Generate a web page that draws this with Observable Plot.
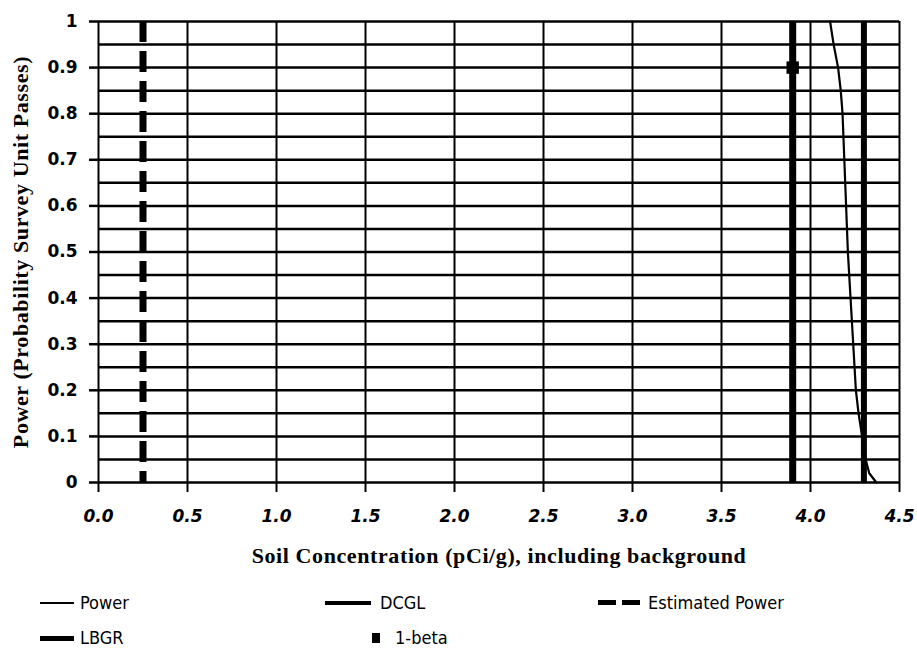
<!DOCTYPE html>
<html>
<head>
<meta charset="utf-8">
<script src="https://cdn.jsdelivr.net/npm/d3@7"></script>
<script src="https://cdn.jsdelivr.net/npm/@observablehq/plot@0.6"></script>
<style>
  html, body { margin: 0; padding: 0; background: #fff; }
  #wrap { position: relative; width: 917px; height: 659px; overflow: hidden; }
  #chart svg { display: block; }
  g[aria-label="x-axis tick label"] text { font-family: "DejaVu Sans", sans-serif; font-weight: bold; font-style: italic; font-size: 17px; }
  g[aria-label="y-axis tick label"] text { font-family: "DejaVu Sans", sans-serif; font-weight: bold; font-size: 17px; }
  g[aria-label="x-axis label"] text, g[aria-label="y-axis label"] text { font-family: "Liberation Serif", serif; font-weight: bold; font-size: 22px; letter-spacing: 0.6px; }
  .leg { position: absolute; font-family: "Liberation Sans Narrow", "DejaVu Sans Condensed", sans-serif; font-size: 18px; color: #000; line-height: 1; }
  .sw { position: absolute; background: #000; }
</style>
</head>
<body>
<div id="wrap">
  <div id="chart"></div>
</div>
<script>
// ---- data ----
const xTicks = [0, 0.5, 1, 1.5, 2, 2.5, 3, 3.5, 4, 4.5];
const yTicks = [0, 0.1, 0.2, 0.3, 0.4, 0.5, 0.6, 0.7, 0.8, 0.9, 1];
const yGrid = [0, 0.05, 0.1, 0.15, 0.2, 0.25, 0.3, 0.35, 0.4, 0.45, 0.5, 0.55, 0.6, 0.65, 0.7, 0.75, 0.8, 0.85, 0.9, 0.95, 1];
const powerX = [4.11, 4.13, 4.155, 4.17, 4.18, 4.19, 4.20, 4.21, 4.225, 4.24, 4.255, 4.27, 4.29, 4.31, 4.33, 4.37];
const powerY = [1, 0.95, 0.9, 0.85, 0.8, 0.7, 0.6, 0.5, 0.4, 0.3, 0.2, 0.15, 0.1, 0.05, 0.02, 0];
const estimatedPower = [0.25];
const lbgr = [3.9];
const dcgl = [4.3];
const oneBetaX = [3.9];
const oneBetaY = [0.9];
const legendLabels = ["Power", "DCGL", "Estimated Power", "LBGR", "1-beta"];

const power = powerX.map((x, i) => ({x, y: powerY[i]}));
const beta = oneBetaX.map((x, i) => ({x, y: oneBetaY[i]}));

const chart = Plot.plot({
  width: 917,
  height: 575,
  marginLeft: 98,
  marginRight: 18,
  marginTop: 21,
  marginBottom: 93,
  style: {background: "#fff", color: "#000"},
  x: {domain: [0, 4.5]},
  y: {domain: [0, 1]},
  marks: [
    Plot.ruleY(yGrid, {stroke: "#000", strokeWidth: 2.5}),
    Plot.ruleX(xTicks, {stroke: "#000", strokeWidth: 2}),
    Plot.axisX(xTicks, {tickSize: 10, tickPadding: 17, tickFormat: d => d.toFixed(1), strokeWidth: 2, label: "Soil Concentration (pCi/g), including background", labelAnchor: "center", labelOffset: 80, labelArrow: "none"}),
    Plot.axisY(yTicks, {tickSize: 9, tickPadding: 12, tickFormat: d => (d === 0 ? "0" : d === 1 ? "1" : d.toFixed(1)), strokeWidth: 2.5, label: "Power (Probability Survey Unit Passes)", labelAnchor: "center", labelOffset: 86, labelArrow: "none"}),
    Plot.ruleX(estimatedPower, {stroke: "#000", strokeWidth: 7, strokeDasharray: "21,9"}),
    Plot.ruleX(lbgr, {stroke: "#000", strokeWidth: 7}),
    Plot.ruleX(dcgl, {stroke: "#000", strokeWidth: 6}),
    Plot.line(power, {x: "x", y: "y", stroke: "#000", strokeWidth: 2.2}),
    Plot.dot(beta, {x: "x", y: "y", symbol: "square", r: 7, fill: "#000", stroke: "none"})
  ]
});
document.getElementById("chart").appendChild(chart);

// ---- legend ----
const wrap = document.getElementById("wrap");
function sw(left, top, w, h) {
  const d = document.createElement("div");
  d.className = "sw";
  Object.assign(d.style, {left: left + "px", top: top + "px", width: w + "px", height: h + "px"});
  wrap.appendChild(d);
}
function txt(left, top, s) {
  const d = document.createElement("div");
  d.className = "leg";
  d.textContent = s;
  Object.assign(d.style, {left: left + "px", top: top + "px"});
  wrap.appendChild(d);
}
// row 1
sw(40, 602, 34, 2); txt(80, 594, legendLabels[0]);
sw(325, 601, 46, 4); txt(380, 594, legendLabels[1]);
sw(598, 600, 18, 5); sw(622, 600, 18, 5); txt(648, 594, legendLabels[2]);
// row 2
sw(40, 636, 34, 5); txt(80, 629, legendLabels[3]);
sw(372, 633, 8, 10); txt(395, 629, legendLabels[4]);
</script>
</body>
</html>
